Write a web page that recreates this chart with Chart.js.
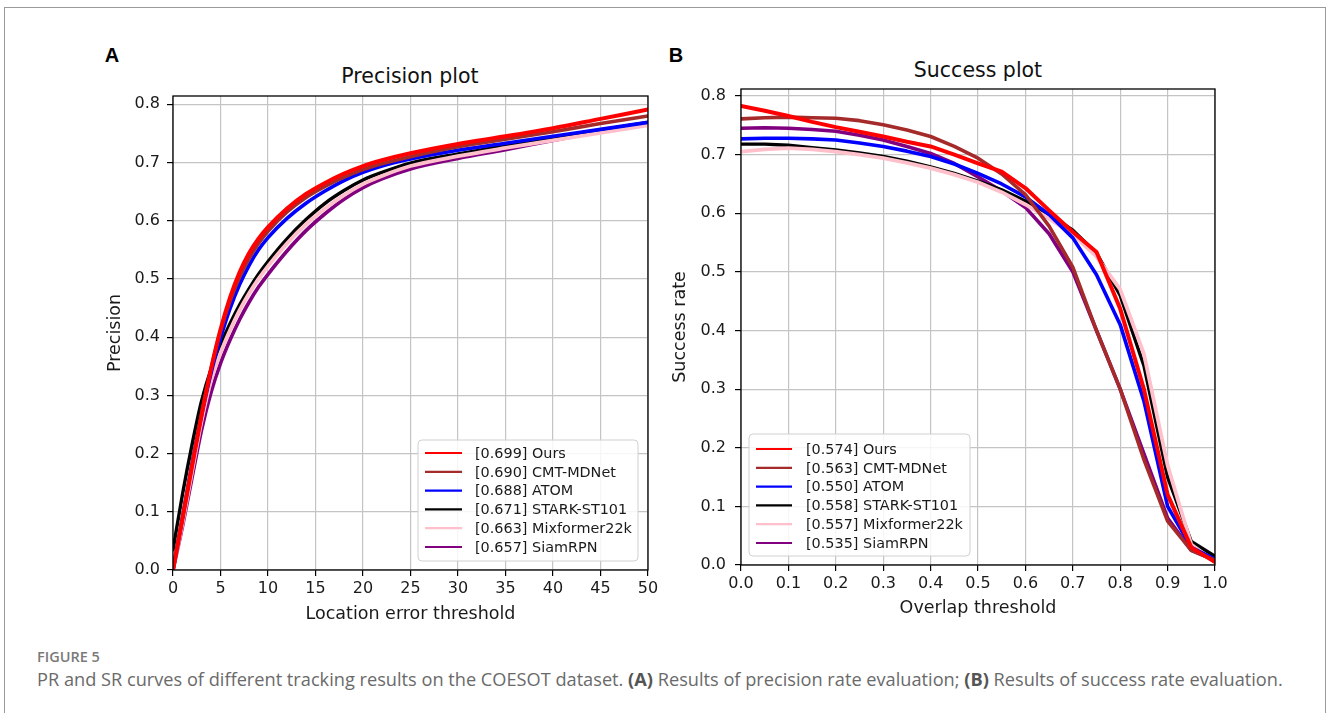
<!DOCTYPE html>
<html>
<head>
<meta charset="utf-8">
<script src="https://cdn.jsdelivr.net/npm/chart.js@4.4.1/dist/chart.umd.min.js"></script>
<style>
html,body{margin:0;padding:0;background:#fff;width:1328px;height:713px;overflow:hidden;}
#frame{position:absolute;left:4px;top:7px;width:1322px;height:740px;border:1.5px solid #9a9a9a;box-sizing:border-box;}
.panel{position:absolute;font:bold 20px "Liberation Sans",Arial,sans-serif;color:#000;transform:translate(-50%,-50%);}
.title{position:absolute;font:20.5px "DejaVu Sans";color:#111;transform:translate(-50%,-50%);white-space:nowrap;}
#c1{position:absolute;left:100px;top:40px;}
#c2{position:absolute;left:660px;top:40px;}
#fig{position:absolute;left:37px;top:656px;transform:translateY(-50%);font:600 14.5px "Open Sans";color:#7a7a7a;white-space:nowrap;}
#cap{position:absolute;left:37px;top:679px;transform:translateY(-50%);font:16px "Open Sans";color:#6a6a6a;white-space:nowrap;}
#cap b{color:#555;}
</style>
</head>
<body>
<div id="frame"></div>
<div class="panel" style="left:112px;top:55px;">A</div>
<div class="panel" style="left:676px;top:55px;">B</div>
<div class="title" style="left:410px;top:76px;">Precision plot</div>
<div class="title" style="left:978px;top:70px;">Success plot</div>
<canvas id="c1" width="560" height="590"></canvas>
<canvas id="c2" width="580" height="590"></canvas>
<div id="fig">FIGURE 5</div>
<div id="cap">PR and SR curves of different tracking results on the COESOT dataset. <b>(A)</b> Results of precision rate evaluation; <b>(B)</b> Results of success rate evaluation.</div>
<script>
// ---------- data ----------
const seriesNames = ['Ours','CMT-MDNet','ATOM','STARK-ST101','Mixformer22k','SiamRPN'];
const precisionScores = ['0.699','0.690','0.688','0.671','0.663','0.657'];
const successScores = ['0.574','0.563','0.550','0.558','0.557','0.535'];

const precisionThresholds = [0,1,2,3,4,5,6,7,8,9,10,12,14,16,18,20,22,25,30,35,40,45,50];
const precisionOurs  = [0.000,0.088,0.178,0.265,0.345,0.413,0.468,0.511,0.544,0.569,0.589,0.621,0.646,0.665,0.681,0.694,0.704,0.716,0.732,0.745,0.759,0.775,0.791];
const precisionCMT   = [0.000,0.090,0.180,0.268,0.345,0.410,0.462,0.503,0.535,0.561,0.582,0.615,0.640,0.659,0.675,0.688,0.698,0.710,0.727,0.740,0.753,0.767,0.780];
const precisionATOM  = [0.000,0.090,0.182,0.265,0.338,0.398,0.449,0.490,0.523,0.550,0.571,0.604,0.630,0.651,0.669,0.683,0.694,0.706,0.721,0.733,0.745,0.757,0.769];
const precisionSTARK = [0.035,0.130,0.215,0.290,0.345,0.387,0.423,0.455,0.483,0.508,0.530,0.569,0.602,0.630,0.652,0.670,0.683,0.699,0.715,0.729,0.743,0.756,0.769];
const precisionMix   = [0.000,0.080,0.168,0.255,0.325,0.373,0.412,0.446,0.475,0.500,0.522,0.561,0.594,0.621,0.644,0.663,0.677,0.694,0.711,0.725,0.738,0.751,0.764];
const precisionSiam  = [0.000,0.075,0.158,0.240,0.305,0.355,0.395,0.430,0.460,0.486,0.508,0.548,0.583,0.612,0.637,0.657,0.672,0.689,0.707,0.722,0.738,0.753,0.768];

const overlapThresholds = [0,0.05,0.1,0.15,0.2,0.25,0.3,0.35,0.4,0.45,0.5,0.55,0.6,0.65,0.7,0.75,0.8,0.85,0.9,0.95,1.0];
const successOurs  = [0.783,0.775,0.766,0.756,0.747,0.739,0.731,0.722,0.714,0.700,0.685,0.671,0.643,0.605,0.568,0.534,0.437,0.300,0.120,0.030,0.005];
const successCMT   = [0.761,0.763,0.764,0.763,0.762,0.758,0.751,0.742,0.731,0.714,0.694,0.667,0.632,0.578,0.508,0.400,0.300,0.180,0.075,0.025,0.008];
const successATOM  = [0.727,0.728,0.728,0.727,0.725,0.720,0.714,0.706,0.697,0.684,0.668,0.650,0.628,0.598,0.558,0.495,0.410,0.280,0.100,0.030,0.010];
const successSTARK = [0.718,0.718,0.716,0.712,0.708,0.703,0.697,0.689,0.679,0.668,0.655,0.640,0.621,0.598,0.571,0.532,0.460,0.340,0.150,0.040,0.015];
const successMix   = [0.705,0.709,0.711,0.709,0.705,0.700,0.694,0.686,0.677,0.666,0.653,0.636,0.615,0.591,0.564,0.526,0.470,0.360,0.170,0.035,0.005];
const successSiam  = [0.745,0.746,0.745,0.743,0.740,0.733,0.725,0.714,0.702,0.685,0.662,0.638,0.610,0.565,0.500,0.400,0.300,0.190,0.080,0.025,0.008];

const precisionXTicks = [0,5,10,15,20,25,30,35,40,45,50];
const overlapXTicks = [0,0.1,0.2,0.3,0.4,0.5,0.6,0.7,0.8,0.9,1.0];
const rateYTicks = [0,0.1,0.2,0.3,0.4,0.5,0.6,0.7,0.8];

// ---------- styling ----------
const colors = ['#ff0000','#a52a2a','#0000ff','#000000','#ffc0cb','#800080'];
const widths = [4,3.6,3.6,3.4,3.8,3.6];
const drawOrder = [0,1,2,4,3,5];
const FONT = 'DejaVu Sans';

function buildDatasets(xs, seriesList, smooth){
  return seriesList.map((ys,i)=>({
    label: seriesNames[i],
    data: xs.map((x,j)=>({x:x,y:ys[j]})),
    borderColor: colors[i],
    backgroundColor: colors[i],
    borderWidth: widths[i],
    pointRadius: 0,
    fill: false,
    order: drawOrder[i],
    tension: smooth ? 0.4 : 0,
    cubicInterpolationMode: smooth ? 'monotone' : 'default',
    borderJoinStyle: 'round',
    borderCapStyle: 'round'
  }));
}

const frameBox = {
  id:'frameBox',
  afterDatasetsDraw(chart){
    const a = chart.chartArea, ctx = chart.ctx;
    ctx.save();
    ctx.strokeStyle = '#000'; ctx.lineWidth = 1.3;
    ctx.strokeRect(a.left, a.top, a.right-a.left, a.bottom-a.top);
    ctx.restore();
  }
};

const boxLegend = {
  id:'boxLegend',
  afterDraw(chart, args, o){
    const ctx = chart.ctx;
    ctx.save();
    ctx.beginPath();
    ctx.roundRect(o.x, o.y, o.w, o.h, 4);
    ctx.fillStyle = 'rgba(255,255,255,0.85)';
    ctx.fill();
    ctx.strokeStyle = '#d0d0d0'; ctx.lineWidth = 1;
    ctx.stroke();
    ctx.font = '14.4px "' + FONT + '"';
    ctx.textBaseline = 'middle';
    ctx.fillStyle = '#1a1a1a';
    o.labels.forEach((t,i)=>{
      const cy = o.y0 + i*o.rowH;
      ctx.beginPath();
      ctx.strokeStyle = colors[i]; ctx.lineWidth = 2.2;
      ctx.moveTo(o.s0, cy); ctx.lineTo(o.s1, cy); ctx.stroke();
      ctx.fillText(t, o.tx, cy+1);
    });
    ctx.restore();
  }
};

function makeChart(id, cfg){
  return new Chart(document.getElementById(id), {
    type:'line',
    data:{datasets: cfg.datasets},
    options:{
      responsive:false,
      animation:false,
      events:[],
      layout:{padding:{left:0,right:cfg.padRight,top:cfg.padTop,bottom:0}},
      plugins:{
        legend:{display:false},
        tooltip:{enabled:false},
        title:{display:false},
        boxLegend: cfg.legend
      },
      scales:{
        x:{
          type:'linear', min:cfg.xMin, max:cfg.xMax,
          afterBuildTicks(s){ s.ticks = cfg.xTicks.map(v=>({value:v})); },
          afterFit(s){ s.height = cfg.xHeight; s.paddingLeft = 0; s.paddingRight = 0; },
          grid:{color:'#c4c4c4', lineWidth:1.2, tickColor:'#000', tickLength:6, drawTicks:true},
          border:{display:false},
          ticks:{color:'#1a1a1a', font:{family:FONT,size:16}, padding:3, maxRotation:0, autoSkip:false,
                 callback:cfg.xFmt},
          title:{display:true, text:cfg.xTitle, color:'#1a1a1a', font:{family:FONT,size:17.5}, padding:{top:0,bottom:cfg.xTitlePad}}
        },
        y:{
          type:'linear', min:0, max:cfg.yMax,
          afterBuildTicks(s){ s.ticks = rateYTicks.map(v=>({value:v})); },
          afterFit(s){ s.width = cfg.yWidth; s.paddingTop = 0; s.paddingBottom = 0; },
          grid:{color:'#c4c4c4', lineWidth:1.2, tickColor:'#000', tickLength:6, drawTicks:true},
          border:{display:false},
          ticks:{color:'#1a1a1a', font:{family:FONT,size:16}, padding:cfg.yTickPad, autoSkip:false,
                 callback:v=>Number(v).toFixed(1)},
          title:{display:true, text:cfg.yTitle, color:'#1a1a1a', font:{family:FONT,size:17.5}, padding:{top:cfg.yTitlePad,bottom:0}}
        }
      }
    },
    plugins:[frameBox, boxLegend]
  });
}

// Left: Precision plot (canvas at page 100,40)
makeChart('c1', {
  datasets: buildDatasets(precisionThresholds,
    [precisionOurs,precisionCMT,precisionATOM,precisionSTARK,precisionMix,precisionSiam], true),
  padRight:12, padTop:56, xHeight:60, yWidth:73,
  xMin:0, xMax:50, yMax:0.8143, xTicks:precisionXTicks,
  xFmt:v=>String(v),
  xTitle:'Location error threshold', xTitlePad:5.5,
  yTitle:'Precision', yTitlePad:5, yTickPad:7,
  legend:{x:318, y:400, w:220, h:121, y0:413, rowH:18.8, s0:325, s1:362, tx:375,
          labels: seriesNames.map((n,i)=>'['+precisionScores[i]+'] '+n)}
});

// Right: Success plot (canvas at page 660,40)
makeChart('c2', {
  datasets: buildDatasets(overlapThresholds,
    [successOurs,successCMT,successATOM,successSTARK,successMix,successSiam], false),
  padRight:25, padTop:49, xHeight:65, yWidth:81,
  xMin:0, xMax:1, yMax:0.812, xTicks:overlapXTicks,
  xFmt:v=>Number(v).toFixed(1),
  xTitle:'Overlap threshold', xTitlePad:11.5,
  yTitle:'Success rate', yTitlePad:10, yTickPad:9,
  legend:{x:89, y:394, w:221, h:122, y0:409, rowH:18.8, s0:96, s1:132, tx:146,
          labels: seriesNames.map((n,i)=>'['+successScores[i]+'] '+n)}
});

// fit caption width to the reference line length
(function(){
  const cap = document.getElementById('cap');
  const w = cap.getBoundingClientRect().width;
  if (w > 0) cap.style.fontSize = (16 * 1246 / w) + 'px';
})();
</script>
</body>
</html>
